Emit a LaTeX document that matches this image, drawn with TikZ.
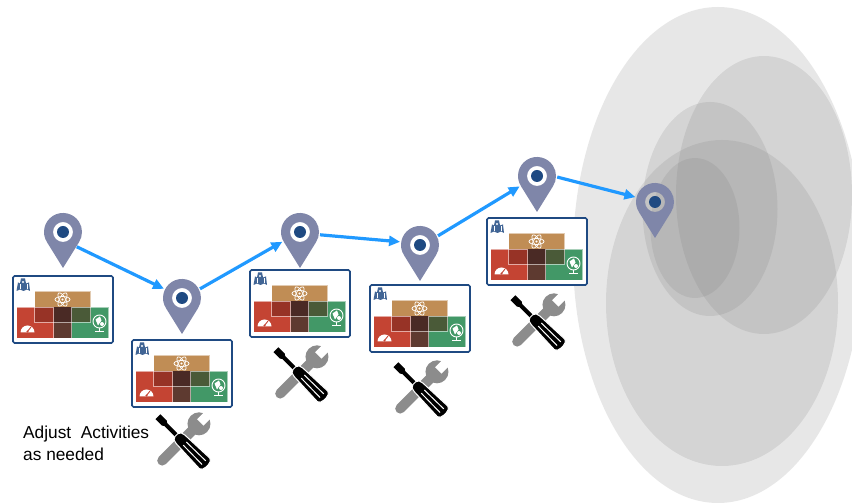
\documentclass[tikz,border=0pt]{standalone}
\usepackage{fontspec}
\setmainfont{Liberation Sans}
\usetikzlibrary{arrows.meta, positioning, calc}

\definecolor{pincol}{HTML}{7F86A9}
\definecolor{navy}{HTML}{1F4A82}
\definecolor{arrowcol}{HTML}{2099FF}
\definecolor{tancol}{HTML}{C08D55}
\definecolor{redcol}{HTML}{C44433}
\definecolor{greencol}{HTML}{429867}
\definecolor{redtan}{HTML}{973326}
\definecolor{greentan}{HTML}{4A5A38}
\definecolor{browntop}{HTML}{4A2A25}
\definecolor{brownlow}{HTML}{5E3A30}
\definecolor{wrenchcol}{HTML}{8C8C8C}

\tikzset{
  pics/pin/.style={code={
    \fill[pincol, even odd rule] (0,-36) -- (-15.95,-10.3)
      arc[start angle=212.9, end angle=-32.9, radius=19] -- cycle
      (0,0) circle[radius=10];
    \fill[navy] (0,0) circle[radius=6];
    \node[circle, minimum size=40pt, inner sep=0pt] (-head) at (0,0) {};
  }},
  pics/activities/.style={code={
    % coloured blocks
    \fill[redcol]   (-46.5,-29) rectangle (-9.5,2);
    \fill[greencol] (8.5,-29) rectangle (45.5,2);
    \fill[brownlow] (-9.5,-29) rectangle (8.5,-13);
    \fill[tancol]   (-28.5,-13) rectangle (27.5,18);
    \fill[redtan]   (-28.5,-13) rectangle (-9.5,2);
    \fill[browntop] (-9.5,-13) rectangle (8.5,2);
    \fill[greentan] (8.5,-13) rectangle (27.5,2);
    \draw[white, opacity=.55, line width=.7pt] (-28.5,-13) rectangle (27.5,18);
    \draw[white, opacity=.55, line width=.7pt] (-46.5,-29) rectangle (-9.5,2);
    \draw[white, opacity=.55, line width=.7pt] (8.5,-29) rectangle (45.5,2);
    % map
    \fill[navy!85] (-46.5,18.5) -- (-43,20) -- (-39.5,18.5) -- (-36,20) -- (-33,18.5) -- (-34,27) -- (-37,26)
      -- (-38,31) -- (-42,31) -- (-43,26) -- (-45,27) -- cycle;
    \fill[white] (-40,27.5) circle[radius=1.2];
    \draw[white, line width=.5pt] (-43,20) -- (-43,25) (-36,20) -- (-36,25);
    % atom
    \foreach \ang in {0,60,120}
      \draw[white, line width=.7pt, rotate around={\ang:(-.5,10)}] (-.5,10) ellipse[x radius=7.5, y radius=3];
    \fill[white] (-.5,10) circle[radius=1.2];
    % gauge
    \fill[white] (-42.5,-23) arc[start angle=180, end angle=0, radius=7] -- cycle;
    \draw[redcol, line width=.9pt] (-35.5,-22) -- (-32,-17.5);
    \fill[redcol] (-35.5,-22) circle[radius=1.2];
    % globe
    \draw[white, line width=.9pt] (36.5,-12) circle[radius=6.5];
    \fill[white] (32.5,-10) -- (37,-7) -- (38.5,-11) -- (35,-16) -- cycle;
    \fill[white] (39,-14.5) circle[radius=2];
    \draw[white, line width=1pt] (32,-22.5) -- (41,-22.5) (36.5,-22.5) -- (36.5,-18.5);
  }},
  pics/tools/.style={code={
    % wrench
    \begin{scope}[rotate=45]
      \draw[wrenchcol, line width=10pt, line cap=round] (-28,0) -- (20,0);
      \fill[wrenchcol] (24,0) circle[radius=11.5];
      \fill[white] (26,-4.5) rectangle (37,4.5);
    \end{scope}
    % screwdriver
    \begin{scope}[rotate=-45]
      \fill[black] (-34,-3.5) -- (-25,-3.5) -- (-23,-2) -- (-8,-2) -- (-8,2) -- (-23,2) -- (-25,3.5) -- (-34,3.5) -- cycle;
      \draw[white, line width=1pt, fill=black, rounded corners=2pt] (-8,-4) -- (-4,-6) -- (34,-7.5) -- (36,0) -- (34,7.5) -- (-4,6) -- (-8,4) -- cycle;
      \draw[white, line width=1pt] (4,-2.2) -- (31,-2.6) (4,2.2) -- (31,2.6);
    \end{scope}
  }}
}

\begin{document}
\begin{tikzpicture}[
  x=1pt, y=1pt,
  spot/.style={fill=gray, opacity=.19},
  activity/.style={rectangle, draw=navy, fill=white, line width=1.6pt, rounded corners=1.5pt,
                   minimum width=100pt, minimum height=67pt, inner sep=0pt},
  arr/.style={-{Triangle[length=11pt, width=10pt]}, line width=3.2pt, arrowcol}]
  \useasboundingbox (0,0) rectangle (852,503);

  % grey regions
  \fill[spot] (718,248) ellipse[x radius=145, y radius=248];
  \fill[spot] (722,200) ellipse[x radius=116, y radius=163];
  \fill[spot] (764,308) ellipse[x radius=88, y radius=139];
  \fill[spot] (710,294) ellipse[x radius=67.5, y radius=107];
  \fill[spot] (695,275) ellipse[x radius=44.5, y radius=70];

  \pic (p1) at (63,271)  {pin};
  \pic (p2) at (182,205) {pin};
  \pic (p3) at (300,271) {pin};
  \pic (p4) at (420,258) {pin};
  \pic (p5) at (537,327) {pin};
  \pic (p6) at (655,301) {pin};

  \node[activity, below=23pt of p1-head] (a1) {};
  \node[activity, below=21pt of p2-head] (a2) {};
  \node[activity, below=17pt of p3-head] (a3) {};
  \node[activity, below=19pt of p4-head] (a4) {};
  \node[activity, below=21pt of p5-head] (a5) {};
  \foreach \card in {a1,a2,a3,a4,a5}
    \pic at (\card.center) {activities};

  \pic at ([yshift=-33pt]a2.south) {tools};
  \pic at ([yshift=-36pt]a3.south) {tools};
  \pic at ([yshift=-36pt]a4.south) {tools};
  \pic at ([yshift=-36pt]a5.south) {tools};

  \node[anchor=west, align=left, inner sep=0pt, font=\fontsize{17.3}{22}\selectfont] (adjust) at (23,60)
    {Adjust\ \ Activities\\as needed};

  \draw[arr] (p1-head.-47) -- (p2-head.153);
  \draw[arr] (p2-head.27)  -- (p3-head.209);
  \draw[arr] (p3-head.-8)  -- (p4-head.171);
  \draw[arr] (p4-head.27)  -- (p5-head.211);
  \draw[arr] (p5-head.-3)  -- (p6-head.166);
\end{tikzpicture}
\end{document}
